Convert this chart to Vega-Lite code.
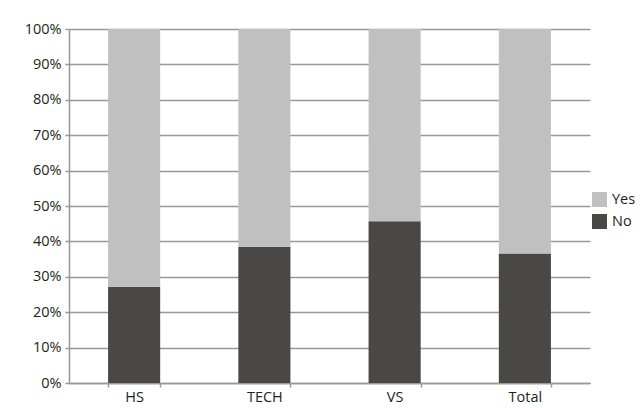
{
  "$schema": "https://vega.github.io/schema/vega-lite/v6.json",
  "autosize": {"type": "none"},
  "padding": {"left": 69, "top": 29, "right": 50, "bottom": 25},
  "width": 521,
  "height": 354,
  "background": "white",
  "data": {
    "values": [
      {"group": "HS", "answer": "No", "share": 0.272},
      {"group": "HS", "answer": "Yes", "share": 0.728},
      {"group": "TECH", "answer": "No", "share": 0.385},
      {"group": "TECH", "answer": "Yes", "share": 0.615},
      {"group": "VS", "answer": "No", "share": 0.457},
      {"group": "VS", "answer": "Yes", "share": 0.543},
      {"group": "Total", "answer": "No", "share": 0.366},
      {"group": "Total", "answer": "Yes", "share": 0.634}
    ]
  },
  "mark": {"type": "bar"},
  "encoding": {
    "x": {
      "field": "group",
      "type": "nominal",
      "sort": ["HS", "TECH", "VS", "Total"],
      "scale": {"paddingInner": 0.6, "paddingOuter": 0.3},
      "axis": {
        "title": null,
        "labelAngle": 0,
        "tickBand": "extent",
        "grid": false,
        "domainColor": "#999999",
        "domainWidth": 1.5,
        "tickColor": "#999999",
        "tickWidth": 1.5,
        "tickSize": 4,
        "labelPadding": 3,
        "labelFont": "Open Sans",
        "labelFontSize": 14.5,
        "labelColor": "#231f20"
      }
    },
    "y": {
      "field": "share",
      "type": "quantitative",
      "stack": "zero",
      "scale": {"domain": [0, 1], "nice": false},
      "axis": {
        "title": null,
        "values": [0, 0.1, 0.2, 0.3, 0.4, 0.5, 0.6, 0.7, 0.8, 0.9, 1],
        "format": ".0%",
        "grid": true,
        "gridColor": "#999999",
        "gridWidth": 1.5,
        "domainColor": "#999999",
        "domainWidth": 1.5,
        "tickColor": "#999999",
        "tickWidth": 1.5,
        "tickSize": 4,
        "labelPadding": 4,
        "labelFont": "Open Sans",
        "labelFontSize": 14.5,
        "labelColor": "#231f20"
      }
    },
    "order": {"field": "answer", "sort": "ascending"},
    "color": {
      "field": "answer",
      "type": "nominal",
      "scale": {"domain": ["Yes", "No"], "range": ["#c0c0c0", "#4a4846"]},
      "legend": {
        "title": null,
        "orient": "none",
        "legendX": 523,
        "legendY": 163,
        "padding": 0,
        "symbolType": "square",
        "symbolSize": 225,
        "symbolStrokeWidth": 0,
        "rowPadding": 6,
        "labelFont": "Open Sans",
        "labelFontSize": 14.5,
        "labelColor": "#231f20",
        "labelOffset": 5
      }
    }
  },
  "config": {"view": {"stroke": null}}
}
